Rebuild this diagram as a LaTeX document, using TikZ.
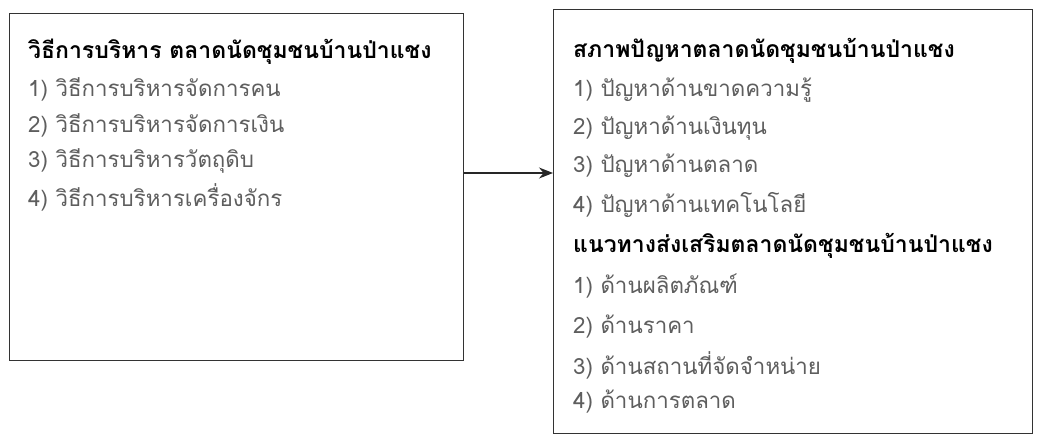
\documentclass[tikz,border=0pt]{standalone}
\usepackage{fontspec}
\newfontfamily\thaifont[Script=Thai]{Loma}
\usetikzlibrary{arrows.meta,positioning}
\definecolor{itemgray}{HTML}{5E5E5E}
\tikzset
{
    box/.style     = {rectangle, draw=black!80, line width=1.4pt, anchor=north west, inner sep=0pt},
    heading/.style = {anchor=west, inner sep=0pt, font=\thaifont\fontsize{23}{26}\selectfont\bfseries, text=black},
    item/.style    = {anchor=west, inner sep=0pt, font=\thaifont\fontsize{22.3}{25}\selectfont, text=itemgray},
    arrow/.style   = {line width=1.2pt, -{Stealth[length=14pt,width=11pt]}, black!85}
}
\begin{document}
\begin{tikzpicture}[x=1pt, y=-1pt]
		\useasboundingbox (0,0) rectangle (1038,434);
		% left box: management
		\node (mgmt)	[box, minimum width=454pt, minimum height=347pt] at (9,13) {};
		\node (mt)	[heading]	at (28,52)	{วิธีการบริหาร ตลาดนัดชุมชนบ้านป่าแชง};
		\node (m1)	[item]		at (28,89)	{1) วิธีการบริหารจัดการคน};
		\node (m2)	[item]		at (28,125)	{2) วิธีการบริหารจัดการเงิน};
		\node (m3)	[item]		at (28,161)	{3) วิธีการบริหารวัตถุดิบ};
		\node (m4)	[item]		at (28,197)	{4) วิธีการบริหารเครื่องจักร};
		% right box: problems and guidelines
		\node (prob)	[box, minimum width=479pt, minimum height=424pt] at (553,9) {};
		\node (pt)	[heading]	at (573,51)	{สภาพปัญหาตลาดนัดชุมชนบ้านป่าแชง};
		\node (p1)	[item]		at (573,90)	{1) ปัญหาด้านขาดความรู้};
		\node (p2)	[item]		at (573,128)	{2) ปัญหาด้านเงินทุน};
		\node (p3)	[item]		at (573,166)	{3) ปัญหาด้านตลาด};
		\node (p4)	[item]		at (573,205)	{4) ปัญหาด้านเทคโนโลยี};
		\node (gt)	[heading]	at (573,246)	{แนวทางส่งเสริมตลาดนัดชุมชนบ้านป่าแชง};
		\node (g1)	[item]		at (573,286)	{1) ด้านผลิตภัณฑ์};
		\node (g2)	[item]		at (573,327)	{2) ด้านราคา};
		\node (g3)	[item]		at (573,365)	{3) ด้านสถานที่จัดจำหน่าย};
		\node (g4)	[item]		at (573,402)	{4) ด้านการตลาด};
		\coordinate (mid) at (508,173);
		\draw[arrow] (mgmt.east |- mid) -- (prob.west |- mid);
\end{tikzpicture}
\end{document}
